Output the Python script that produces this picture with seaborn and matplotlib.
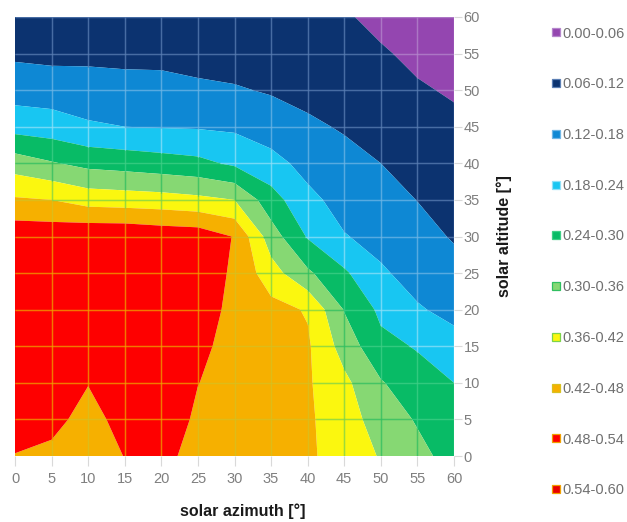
import numpy as np
import matplotlib
matplotlib.use("Agg")
import matplotlib.pyplot as plt
from matplotlib.collections import LineCollection
from matplotlib.lines import Line2D
import seaborn as sns

# grid of the surface chart (degrees)
azimuth = [0, 5, 10, 15, 20, 25, 30, 35, 40, 45, 50, 55, 60]
altitude = [0, 5, 10, 15, 20, 25, 30, 35, 40, 45, 50, 55, 60]

# values, one row per solar altitude, columns = azimuth 0..60
alt_00 = [0.478, 0.46, 0.44, 0.482, 0.50, 0.455, 0.45, 0.445, 0.428, 0.398, 0.355, 0.315, 0.28]
alt_05 = [0.505, 0.505, 0.45, 0.51, 0.515, 0.47, 0.455, 0.447, 0.428, 0.39, 0.33, 0.295, 0.26]
alt_10 = [0.515, 0.52, 0.483, 0.52, 0.52, 0.481, 0.46, 0.448, 0.427, 0.374, 0.305, 0.262, 0.24]
alt_15 = [0.52, 0.525, 0.52, 0.525, 0.52, 0.49, 0.465, 0.448, 0.428, 0.335, 0.255, 0.236, 0.198]
alt_20 = [0.52, 0.525, 0.525, 0.53, 0.52, 0.50, 0.469, 0.44, 0.415, 0.297, 0.228, 0.185, 0.166]
alt_25 = [0.522, 0.525, 0.53, 0.53, 0.52, 0.51, 0.472, 0.385, 0.31, 0.249, 0.187, 0.161, 0.14]
alt_30 = [0.521, 0.52, 0.53, 0.53, 0.52, 0.515, 0.477, 0.328, 0.235, 0.183, 0.163, 0.14, 0.115]
alt_35 = [0.4275, 0.42, 0.395, 0.39, 0.385, 0.375, 0.36, 0.265, 0.195, 0.159, 0.141, 0.119, 0.10]
alt_40 = [0.331, 0.305, 0.283, 0.275, 0.265, 0.255, 0.23, 0.20, 0.161, 0.137, 0.12, 0.101, 0.087]
alt_45 = [0.217, 0.208, 0.188, 0.18, 0.177, 0.175, 0.17, 0.15, 0.129, 0.115, 0.102, 0.083, 0.07]
alt_50 = [0.154, 0.15, 0.144, 0.14, 0.138, 0.13, 0.125, 0.115, 0.105, 0.095, 0.083, 0.065, 0.055]
alt_55 = [0.11, 0.105, 0.107, 0.105, 0.105, 0.10, 0.095, 0.09, 0.085, 0.08, 0.065, 0.05, 0.045]
alt_60 = [0.08, 0.08, 0.085, 0.085, 0.085, 0.083, 0.08, 0.075, 0.07, 0.065, 0.048, 0.04, 0.035]

levels = [0.00, 0.06, 0.12, 0.18, 0.24, 0.30, 0.36, 0.42, 0.48, 0.54, 0.60]
band_labels = ["0.00-0.06", "0.06-0.12", "0.12-0.18", "0.18-0.24", "0.24-0.30",
               "0.30-0.36", "0.36-0.42", "0.42-0.48", "0.48-0.54", "0.54-0.60"]
band_colors = ["#9446b0", "#0c3370", "#0e88d4", "#18c6f2", "#08bb66",
               "#86d873", "#fbf70f", "#f6b000", "#fe0000", "#e80000"]
# excel draws the wireframe of each band in a lighter / neighbouring colour
wire_colors = ["#b586cc", "#5b7fb4", "#6fb6e6", "#8fe0f8", "#3fcf86",
               "#30bf60", "#7cd34a", "#d8c020", "#f0a000", "#f0a000"]

sns.set_theme(style="white")
plt.rcParams["font.family"] = ["Liberation Sans", "DejaVu Sans"]

Z = np.array([alt_00, alt_05, alt_10, alt_15, alt_20, alt_25, alt_30,
              alt_35, alt_40, alt_45, alt_50, alt_55, alt_60])
X, Y = np.meshgrid(azimuth, altitude)

fig = plt.figure(figsize=(6.27, 5.22), dpi=100)
ax = fig.add_axes([15 / 627, 1 - 456 / 522, 439 / 627, 439 / 522])
ax.contourf(X, Y, Z, levels=levels, colors=sns.color_palette(band_colors), antialiased=True)


def wire_segments(pos, zline, vertical):
    t = np.linspace(0, 60, 601)
    tm = (t[:-1] + t[1:]) / 2
    zm = np.interp(tm, altitude if vertical else azimuth, zline)
    idx = np.clip(np.digitize(zm, levels) - 1, 0, 9)
    if vertical:
        segs = [[(pos, a), (pos, b)] for a, b in zip(t[:-1], t[1:])]
    else:
        segs = [[(a, pos), (b, pos)] for a, b in zip(t[:-1], t[1:])]
    return segs, [wire_colors[k] for k in idx]


all_segs, all_cols = [], []
for i, xv in enumerate(azimuth[1:], start=1):
    s, c = wire_segments(xv, Z[:, i], True)
    all_segs += s
    all_cols += c
for j, yv in enumerate(altitude[1:], start=1):
    s, c = wire_segments(yv, Z[j, :], False)
    all_segs += s
    all_cols += c
ax.add_collection(LineCollection(all_segs, colors=all_cols, linewidths=1.0, zorder=3))

ax.set_xlim(0, 60)
ax.set_ylim(0, 60)
ax.set_xticks(azimuth)
ax.set_yticks(altitude)
ax.yaxis.tick_right()
ax.yaxis.set_label_position("right")
for sp in ax.spines.values():
    sp.set_visible(False)
ax.tick_params(axis="x", length=7, width=0.8, color="#d9d9d9", labelcolor="#7f7f7f",
               labelsize=10.5, pad=4.5, bottom=True)
ax.tick_params(axis="y", length=6, width=0.8, color="#d9d9d9", labelcolor="#7f7f7f",
               labelsize=10.5, pad=1, right=True, left=False)

ax.set_xlabel("solar azimuth [°]", fontsize=11.5, fontweight="bold", color="#1a1a1a")
ax.xaxis.set_label_coords(0.519, -0.107)
ax.set_ylabel("solar altitude [°]", fontsize=11.5, fontweight="bold", color="#1a1a1a")
ax.yaxis.set_label_coords(1.096, 0.5)

handles = [Line2D([], [], marker="s", linestyle="none", markersize=5.5,
                  markerfacecolor=fc, markeredgecolor=ec, markeredgewidth=0.9)
           for fc, ec in zip(band_colors, wire_colors)]
fig.legend(handles, band_labels, loc="upper left", bbox_to_anchor=(550.5 / 627, 1 - 26.5 / 522),
           frameon=False, handlelength=0.7, handletextpad=0.1, labelspacing=2.52,
           fontsize=10.5, labelcolor="#707070", borderaxespad=0, borderpad=0)

fig.savefig("out.png", dpi=100)
